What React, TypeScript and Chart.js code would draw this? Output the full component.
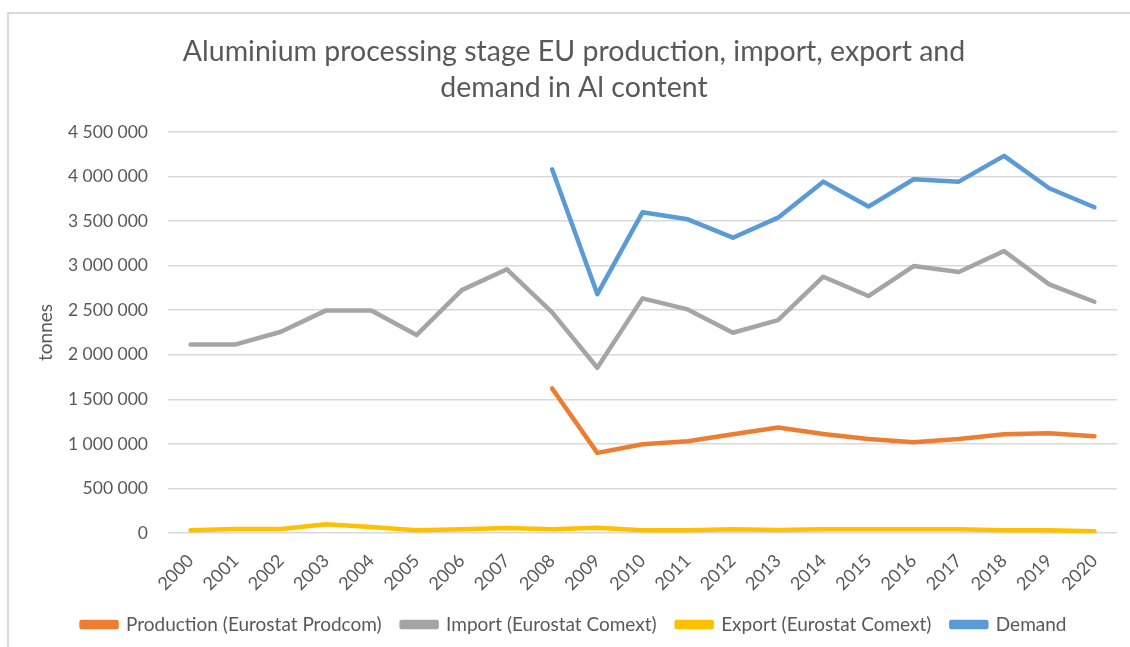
import React, { useEffect, useRef } from "react";
import { Chart, registerables } from "chart.js";

Chart.register(...registerables);

const years = ["2000", "2001", "2002", "2003", "2004", "2005", "2006", "2007", "2008", "2009", "2010", "2011", "2012", "2013", "2014", "2015", "2016", "2017", "2018", "2019", "2020"];

const production = [null, null, null, null, null, null, null, null, 1622000, 899000, 996000, 1030000, 1108000, 1183000, 1112000, 1056000, 1019000, 1056000, 1108000, 1120000, 1086000];
const importValues = [2116000, 2116000, 2258000, 2498000, 2498000, 2221000, 2726000, 2959000, 2475000, 1854000, 2633000, 2509000, 2247000, 2389000, 2876000, 2659000, 2996000, 2929000, 3165000, 2790000, 2595000];
const exportValues = [30000, 45000, 45000, 97000, 67000, 30000, 41000, 56000, 41000, 60000, 30000, 30000, 41000, 34000, 41000, 41000, 41000, 41000, 30000, 30000, 19000];
const demand = [null, null, null, null, null, null, null, null, 4082000, 2681000, 3599000, 3520000, 3314000, 3539000, 3943000, 3663000, 3970000, 3943000, 4232000, 3869000, 3655000];

const seriesLabels = ["Production (Eurostat Prodcom)", "Import (Eurostat Comext)", "Export (Eurostat Comext)", "Demand"];
const titleLines = ["Aluminium processing stage EU production, import, export and", "demand in Al content"];
const yAxisTitle = "tonnes";
const yMin = 0;
const yMax = 4500000;
const yStep = 500000;

const TEXT = "#595959";
const GRID = "#D9D9D9";
const FONT = "Lato";

const fmt = (v: number) => String(v).replace(/\B(?=(\d{3})+(?!\d))/g, " ");

const framePlugin = {
  id: "frame",
  beforeDraw(chart: any) {
    const ctx = chart.ctx;
    ctx.save();
    ctx.fillStyle = "#ffffff";
    ctx.fillRect(0, 0, chart.width, chart.height);
    ctx.strokeStyle = "#D9D9D9";
    ctx.lineWidth = 2;
    ctx.beginPath();
    ctx.moveTo(7, 13);
    ctx.lineTo(chart.width, 13);
    ctx.moveTo(8, 13);
    ctx.lineTo(8, chart.height);
    ctx.stroke();
    ctx.restore();
  },
};

export default function App() {
  const ref = useRef<HTMLCanvasElement | null>(null);

  useEffect(() => {
    if (!ref.current) return;
    const mk = (label: string, data: any[], color: string) => ({
      label,
      data,
      borderColor: color,
      backgroundColor: color,
      borderWidth: 4.5,
      pointRadius: 0,
      pointHoverRadius: 0,
      borderCapStyle: "round" as const,
      borderJoinStyle: "round" as const,
      tension: 0,
      spanGaps: false,
      fill: false,
    });
    const chart = new Chart(ref.current, {
      type: "line",
      data: {
        labels: years,
        datasets: [
          mk(seriesLabels[0], production, "#ED7D31"),
          mk(seriesLabels[1], importValues, "#A5A5A5"),
          mk(seriesLabels[2], exportValues, "#FFC000"),
          mk(seriesLabels[3], demand, "#5B9BD5"),
        ],
      },
      options: {
        animation: false,
        responsive: false,
        devicePixelRatio: 1,
        layout: { padding: { left: 31, right: 13, top: 0, bottom: 3 } },
        plugins: {
          tooltip: { enabled: false },
          title: {
            display: true,
            text: titleLines,
            color: TEXT,
            font: { family: FONT, size: 28.5, weight: "normal", lineHeight: 36 / 28.5 },
            padding: { top: 34, bottom: 26 },
          },
          legend: {
            position: "bottom",
            labels: {
              color: TEXT,
              font: { family: FONT, size: 19 },
              boxWidth: 35,
              boxHeight: 5,
              padding: 20,
            },
          },
        },
        scales: {
          x: {
            offset: true,
            grid: { display: false, drawTicks: false },
            border: { display: false },
            ticks: {
              color: TEXT,
              font: { family: FONT, size: 18 },
              maxRotation: 45,
              minRotation: 45,
              autoSkip: false,
              padding: 17,
            },
            afterFit(scale: any) {
              scale.height = 62;
            },
          },
          y: {
            min: yMin,
            max: yMax,
            grid: { color: GRID, lineWidth: 1.5, drawTicks: false },
            border: { display: false },
            ticks: {
              stepSize: yStep,
              color: TEXT,
              font: { family: FONT, size: 17.5 },
              padding: 20,
              callback: (v: any) => fmt(Number(v)),
            },
            title: {
              display: true,
              text: yAxisTitle,
              color: TEXT,
              font: { family: FONT, size: 19 },
              padding: { top: 3, bottom: 0 },
            },
            afterFit(scale: any) {
              scale.width = 137;
            },
          },
        },
      },
      plugins: [framePlugin],
    });
    return () => chart.destroy();
  }, []);

  return (
    <div style={{ position: "absolute", left: 0, top: 0, width: 1130, height: 647 }}>
      <canvas ref={ref} width={1130} height={647} />
    </div>
  );
}
